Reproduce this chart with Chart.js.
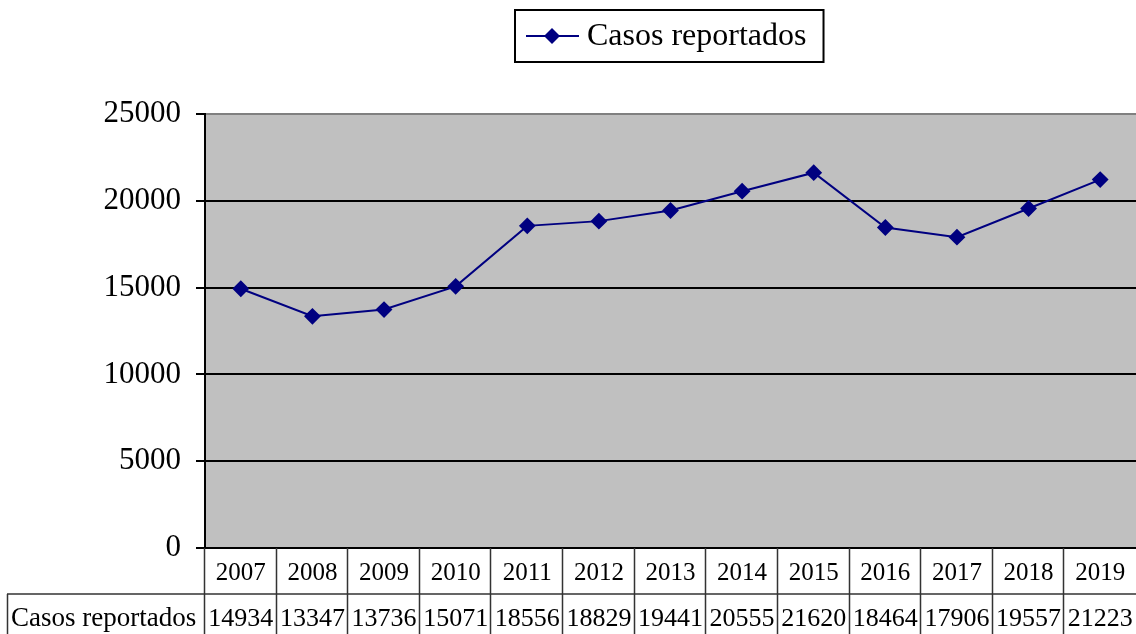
<!DOCTYPE html>
<html>
<head>
<meta charset="utf-8">
<script src="https://cdn.jsdelivr.net/npm/chart.js@4/dist/chart.umd.min.js"></script>
<style>
  html, body { margin: 0; padding: 0; background: #fff; overflow: hidden; }
  canvas { display: block; }
</style>
</head>
<body>
<canvas id="chart" width="1136" height="634"></canvas>
<script>
const years = ['2007', '2008', '2009', '2010', '2011', '2012', '2013', '2014', '2015', '2016', '2017', '2018', '2019'];
const casos = [14934, 13347, 13736, 15071, 18556, 18829, 19441, 20555, 21620, 18464, 17906, 19557, 21223];
const seriesLabel = 'Casos reportados';
const yMin = 0;
const yMax = 25000;
const yStep = 5000;

const serif = "'Liberation Serif', 'Times New Roman', serif";
const navy = '#000080';

// grey plot background
const plotBackground = {
  id: 'plotBackground',
  beforeDraw(chart) {
    const {ctx, chartArea: a} = chart;
    ctx.save();
    ctx.fillStyle = '#c0c0c0';
    ctx.fillRect(a.left, a.top, a.right - a.left, a.bottom - a.top);
    ctx.restore();
  },
};

// legend box at the top
const boxLegend = {
  id: 'boxLegend',
  afterDraw(chart) {
    const ctx = chart.ctx;
    const ds = chart.data.datasets[0];
    ctx.save();
    ctx.font = '32px ' + serif;
    const tw = ctx.measureText(ds.label).width;
    const bw = 72 + tw + 17;
    const bx = Math.round((chart.width - bw) / 2) + 101;
    const by = 10;
    const bh = 52;
    ctx.fillStyle = '#fff';
    ctx.fillRect(bx, by, bw, bh);
    ctx.strokeStyle = '#000';
    ctx.lineWidth = 2;
    ctx.strokeRect(bx, by, bw, bh);
    const cy = by + bh / 2;
    ctx.strokeStyle = navy;
    ctx.beginPath();
    ctx.moveTo(bx + 11, cy);
    ctx.lineTo(bx + 64, cy);
    ctx.stroke();
    ctx.fillStyle = navy;
    ctx.beginPath();
    ctx.moveTo(bx + 37, cy - 8);
    ctx.lineTo(bx + 45, cy);
    ctx.lineTo(bx + 37, cy + 8);
    ctx.lineTo(bx + 29, cy);
    ctx.closePath();
    ctx.fill();
    ctx.fillStyle = '#000';
    ctx.textBaseline = 'middle';
    ctx.fillText(ds.label, bx + 72, cy + 1);
    ctx.restore();
  },
};

// data table under the x axis
const dataTable = {
  id: 'dataTable',
  afterDraw(chart) {
    const {ctx, chartArea: a, scales} = chart;
    const x = scales.x;
    const n = chart.data.labels.length;
    const cw = (a.right - a.left) / n;
    const row1 = a.bottom;
    const row2 = a.bottom + 46;
    const bottom = chart.height;
    const labelLeft = 7;
    ctx.save();
    ctx.strokeStyle = '#333';
    ctx.lineWidth = 1.5;
    ctx.beginPath();
    for (let i = 0; i < n; i++) {
      const lx = Math.round(a.left + i * cw) - 0.5;
      ctx.moveTo(lx, row1);
      ctx.lineTo(lx, bottom);
    }
    ctx.moveTo(labelLeft, row2);
    ctx.lineTo(a.right, row2);
    ctx.moveTo(labelLeft + 0.5, row2);
    ctx.lineTo(labelLeft + 0.5, bottom);
    ctx.stroke();

    ctx.fillStyle = '#000';
    ctx.textAlign = 'center';
    ctx.textBaseline = 'middle';
    chart.data.labels.forEach((lab, i) => {
      const cx = x.getPixelForValue(i);
      ctx.font = '25px ' + serif;
      ctx.fillText(lab, cx, row1 + 25);
      ctx.font = '26px ' + serif;
      ctx.fillText(String(chart.data.datasets[0].data[i]), cx, row2 + 25);
    });
    ctx.textAlign = 'left';
    ctx.font = '27px ' + serif;
    ctx.fillText(chart.data.datasets[0].label, labelLeft + 4, row2 + 25);
    ctx.restore();
  },
};

const config = {
  type: 'line',
  data: {
    labels: years,
    datasets: [
      {
        label: seriesLabel,
        data: casos,
        borderColor: navy,
        backgroundColor: navy,
        borderWidth: 2,
        pointStyle: 'rectRot',
        pointRadius: 7,
        pointHoverRadius: 7,
        pointBackgroundColor: navy,
        pointBorderColor: navy,
        fill: false,
        tension: 0,
      },
    ],
  },
  options: {
    responsive: false,
    animation: false,
    events: [],
    layout: {
      autoPadding: false,
      padding: {top: 114, right: 0, bottom: 0, left: 0},
    },
    plugins: {
      legend: {display: false},
      tooltip: {enabled: false},
    },
    scales: {
      x: {
        offset: true,
        ticks: {display: false},
        grid: {display: false, drawTicks: false},
        border: {display: true, color: '#000', width: 2},
        afterFit(scale) {
          scale.height = 86;
        },
      },
      y: {
        min: yMin,
        max: yMax,
        ticks: {
          stepSize: yStep,
          color: '#000',
          padding: 15,
          font: {family: serif, size: 31},
          callback: (v) => String(v),
        },
        grid: {
          color: (c) => (c.tick && c.tick.value === yMax ? '#808080' : '#000'),
          lineWidth: 2,
          tickLength: 9,
          tickColor: '#000',
        },
        border: {display: true, color: '#000', width: 2},
        afterFit(scale) {
          scale.width = 205;
        },
      },
    },
  },
  plugins: [plotBackground, dataTable, boxLegend],
};

new Chart(document.getElementById('chart'), config);
</script>
</body>
</html>
